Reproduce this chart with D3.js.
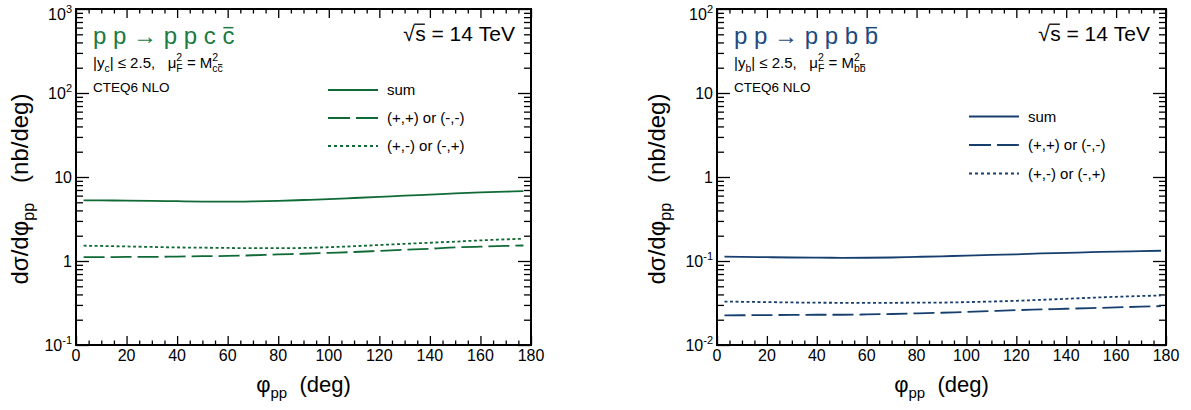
<!DOCTYPE html>
<html>
<head>
<meta charset="utf-8">
<script src="https://cdn.jsdelivr.net/npm/d3@7"></script>
<style>
  html, body { margin: 0; padding: 0; background: #fff; }
  svg { display: block; font-family: "Liberation Sans", Arial, Helvetica, sans-serif; }
</style>
</head>
<body>
<svg id="chart" width="1191" height="410"></svg>
<script>
// Azimuthal angle between the outgoing protons, degrees
const phiC = [3, 10, 20, 30, 40, 50, 60, 70, 80, 90, 100, 110, 120, 130, 140, 150, 160, 170, 177];
const phiB = [3, 10, 20, 30, 40, 50, 60, 70, 80, 90, 100, 110, 120, 130, 140, 150, 160, 170, 178];

// p p -> p p c cbar, nb/deg
const sumC  = [5.28, 5.26, 5.24, 5.21, 5.15, 5.10, 5.09, 5.12, 5.20, 5.32, 5.45, 5.62, 5.80, 6.00, 6.18, 6.38, 6.55, 6.70, 6.80];
const sameC = [1.11, 1.11, 1.12, 1.12, 1.13, 1.14, 1.15, 1.17, 1.20, 1.22, 1.25, 1.28, 1.32, 1.36, 1.40, 1.45, 1.48, 1.51, 1.53];
const oppC  = [1.52, 1.51, 1.49, 1.47, 1.45, 1.44, 1.43, 1.42, 1.42, 1.43, 1.46, 1.50, 1.55, 1.60, 1.65, 1.70, 1.76, 1.81, 1.84];

// p p -> p p b bbar, nb/deg
const sumB  = [0.1125, 0.1120, 0.1110, 0.1100, 0.1095, 0.1092, 0.1093, 0.1100, 0.1120, 0.1137, 0.1160, 0.1180, 0.1200, 0.1230, 0.1250, 0.1275, 0.1290, 0.1310, 0.1325];
const sameB = [0.0225, 0.0226, 0.0227, 0.0228, 0.0229, 0.0229, 0.0231, 0.0234, 0.0238, 0.0242, 0.0248, 0.0254, 0.0260, 0.0265, 0.0270, 0.0275, 0.0280, 0.0286, 0.0290];
const oppB  = [0.0329, 0.0327, 0.0324, 0.0321, 0.0319, 0.0318, 0.0318, 0.0318, 0.0319, 0.0320, 0.0324, 0.0329, 0.0336, 0.0345, 0.0355, 0.0365, 0.0375, 0.0383, 0.0389];

const seriesNames = ["sum", "(+,+) or (-,-)", "(+,-) or (-,+)"];
const xTickValues = [0, 20, 40, 60, 80, 100, 120, 140, 160, 180];
const yTicksC = [0.1, 1, 10, 100, 1000];
const yLabelsC = [["10", "-1"], ["1", ""], ["10", ""], ["10", "2"], ["10", "3"]];
const yTicksB = [0.01, 0.1, 1, 10, 100];
const yLabelsB = [["10", "-2"], ["10", "-1"], ["1", ""], ["10", ""], ["10", "2"]];

const svg = d3.select("#chart");

// Lay out a run of text pieces left to right; pieces may carry a stacked sup/sub or an overbar.
function layout(g, parts, x0, base, fill) {
  let cx = x0;
  for (const p of parts) {
    if (p.sup || p.sub) {
      const w1 = p.sup ? layout(g, p.sup, cx, base - p.up, fill) : 0;
      const w2 = p.sub ? layout(g, p.sub, cx, base + p.down, fill) : 0;
      cx += Math.max(w1, w2) + (p.gap || 0);
    } else {
      const t = g.append("text").attr("x", cx).attr("y", base)
        .attr("font-size", p.s).attr("fill", fill).text(p.t.replace(/ /g, "\u00a0"));
      const w = t.node().getComputedTextLength();
      if (p.bar) {
        const yb = base - p.s * p.bar;
        const x1 = p.barFrom !== undefined ? cx + p.barFrom : cx + w * 0.08;
        g.append("line").attr("x1", x1).attr("x2", cx + w * 0.92)
          .attr("y1", yb).attr("y2", yb).attr("stroke", fill)
          .attr("stroke-width", Math.max(1, p.s / 16));
      }
      cx += w + (p.gap || 0);
    }
  }
  return cx - x0;
}

function rich(parent, x, y, parts, opts = {}) {
  const fill = opts.fill || "#000";
  const outer = parent.append("g");
  const g = outer.append("g");
  const w = layout(g, parts, 0, 0, fill);
  const dx = opts.anchor === "end" ? -w : opts.anchor === "middle" ? -w / 2 : 0;
  g.attr("transform", `translate(${dx},0)`);
  outer.attr("transform", `translate(${x},${y})` + (opts.rotate ? ` rotate(${opts.rotate})` : ""));
  return outer;
}

function drawPanel(cfg) {
  const { left, right, top, bottom } = cfg.box;
  const x = d3.scaleLinear().domain([0, 180]).range([left, right]);
  const y = d3.scaleLog().domain(cfg.yDomain).range([bottom, top]);
  const g = svg.append("g");

  const minorX = d3.range(0, 181, 5).filter(v => v % 20 !== 0);
  const majorY = cfg.yTicks;
  const minorY = y.ticks().filter(v => !majorY.some(m => Math.abs(m - v) / m < 1e-6));

  const axes = [
    [d3.axisBottom(x).tickValues(xTickValues).tickSize(-9), `translate(0,${bottom})`],
    [d3.axisBottom(x).tickValues(minorX).tickSize(-4.5), `translate(0,${bottom})`],
    [d3.axisTop(x).tickValues(xTickValues).tickSize(-9), `translate(0,${top})`],
    [d3.axisTop(x).tickValues(minorX).tickSize(-4.5), `translate(0,${top})`],
    [d3.axisLeft(y).tickValues(majorY).tickSize(-13), `translate(${left},0)`],
    [d3.axisLeft(y).tickValues(minorY).tickSize(-7), `translate(${left},0)`],
    [d3.axisRight(y).tickValues(majorY).tickSize(-13), `translate(${right},0)`],
    [d3.axisRight(y).tickValues(minorY).tickSize(-7), `translate(${right},0)`]
  ];
  for (const [ax, tr] of axes) {
    const a = g.append("g").attr("transform", tr).call(ax.tickFormat(""));
    a.select(".domain").remove();
    a.selectAll("line").attr("stroke", "#000").attr("stroke-width", 1.3);
  }
  g.append("rect").attr("x", left).attr("y", top)
    .attr("width", right - left).attr("height", bottom - top)
    .attr("fill", "none").attr("stroke", "#000").attr("stroke-width", 2);

  // tick labels
  xTickValues.forEach(v => {
    g.append("text").attr("x", x(v)).attr("y", bottom + 16).attr("text-anchor", "middle")
      .attr("font-size", 16).text(v);
  });
  majorY.forEach((v, i) => {
    const [m, e] = cfg.yLabels[i];
    const parts = [{ t: m, s: 16 }];
    if (e) parts.push({ sup: [{ t: e, s: 11 }], up: 7 });
    const base = i === majorY.length - 1 ? y(v) + 11 : y(v) + 6;
    rich(g, left - 4, base, parts, { anchor: "end" });
  });

  // axis titles
  rich(g, (left + right) / 2, 392, [
    { t: "φ", s: 22 }, { sub: [{ t: "pp", s: 15 }], down: 6 },
    { t: "  (deg)", s: 22 }
  ], { anchor: "middle" });
  rich(g, cfg.yTitleX, 189, [
    { t: "dσ/dφ", s: 24 }, { sub: [{ t: "pp", s: 16 }], down: 6 },
    { t: "   (nb/deg)", s: 24 }
  ], { anchor: "middle", rotate: -90 });

  // curves
  const line = d3.line().x(d => x(d[0])).y(d => y(d[1])).curve(d3.curveMonotoneX);
  const dashes = [null, "21,6", "3,2.5"];
  cfg.series.forEach((vals, i) => {
    g.append("path").datum(cfg.phi.map((p, k) => [p, vals[k]]))
      .attr("d", line).attr("fill", "none").attr("stroke", cfg.color)
      .attr("stroke-width", 1.8).attr("stroke-dasharray", dashes[i]);
  });

  // legend
  const lg = cfg.legend;
  seriesNames.forEach((name, i) => {
    const ly = lg.y + i * lg.step;
    g.append("line").attr("x1", lg.x).attr("x2", lg.x + 50).attr("y1", ly).attr("y2", ly)
      .attr("stroke", cfg.color).attr("stroke-width", 1.8)
      .attr("stroke-dasharray", i === 1 ? "22,6" : i === 2 ? "3,3" : null);
    g.append("text").attr("x", lg.x + 59).attr("y", ly + 5).attr("font-size", 15).text(name);
  });

  // process label
  const q = cfg.quark;
  rich(g, left + 17, 44, [
    { t: "p p ", s: 24 }, { t: "→", s: 24 }, { t: " p p " + q + " ", s: 24 }, { t: q, s: 24, bar: 0.68 }
  ], { fill: cfg.titleColor });
  rich(g, left + 17, 68, [
    { t: "|y", s: 15 }, { sub: [{ t: q, s: 10.5 }], down: 4 }, { t: "| ≤ 2.5,   μ", s: 15 },
    { sup: [{ t: "2", s: 10.5 }], sub: [{ t: "F", s: 10.5 }], up: 7, down: 4 },
    { t: " = M", s: 15 },
    { sup: [{ t: "2", s: 10.5 }], sub: [{ t: q, s: 10.5 }, { t: q, s: 10.5, bar: 0.7 }], up: 7, down: 4 }
  ]);
  g.append("text").attr("x", left + 17).attr("y", 92).attr("font-size", 13.5).text("CTEQ6 NLO");

  // collision energy, radical drawn over the s
  rich(g, right - 16, 41, [
    { t: "√", s: 21, gap: 0.5 }, { t: "s", s: 21, bar: 0.8, barFrom: -1 }, { t: " = 14 TeV", s: 21 }
  ], { anchor: "end" });
}

drawPanel({
  box: { left: 76, right: 531, top: 9, bottom: 345 },
  yDomain: [0.1, 1000], yTicks: yTicksC, yLabels: yLabelsC, yTitleX: 28,
  phi: phiC, series: [sumC, sameC, oppC], color: "#0f6a35", titleColor: "#1b7a40",
  legend: { x: 328, y: 90, step: 28 }, quark: "c"
});
drawPanel({
  box: { left: 717, right: 1166, top: 9, bottom: 345 },
  yDomain: [0.01, 100], yTicks: yTicksB, yLabels: yLabelsB, yTitleX: 665,
  phi: phiB, series: [sumB, sameB, oppB], color: "#173f6e", titleColor: "#1d4a80",
  legend: { x: 969, y: 116.5, step: 28.5 }, quark: "b"
});
</script>
</body>
</html>
